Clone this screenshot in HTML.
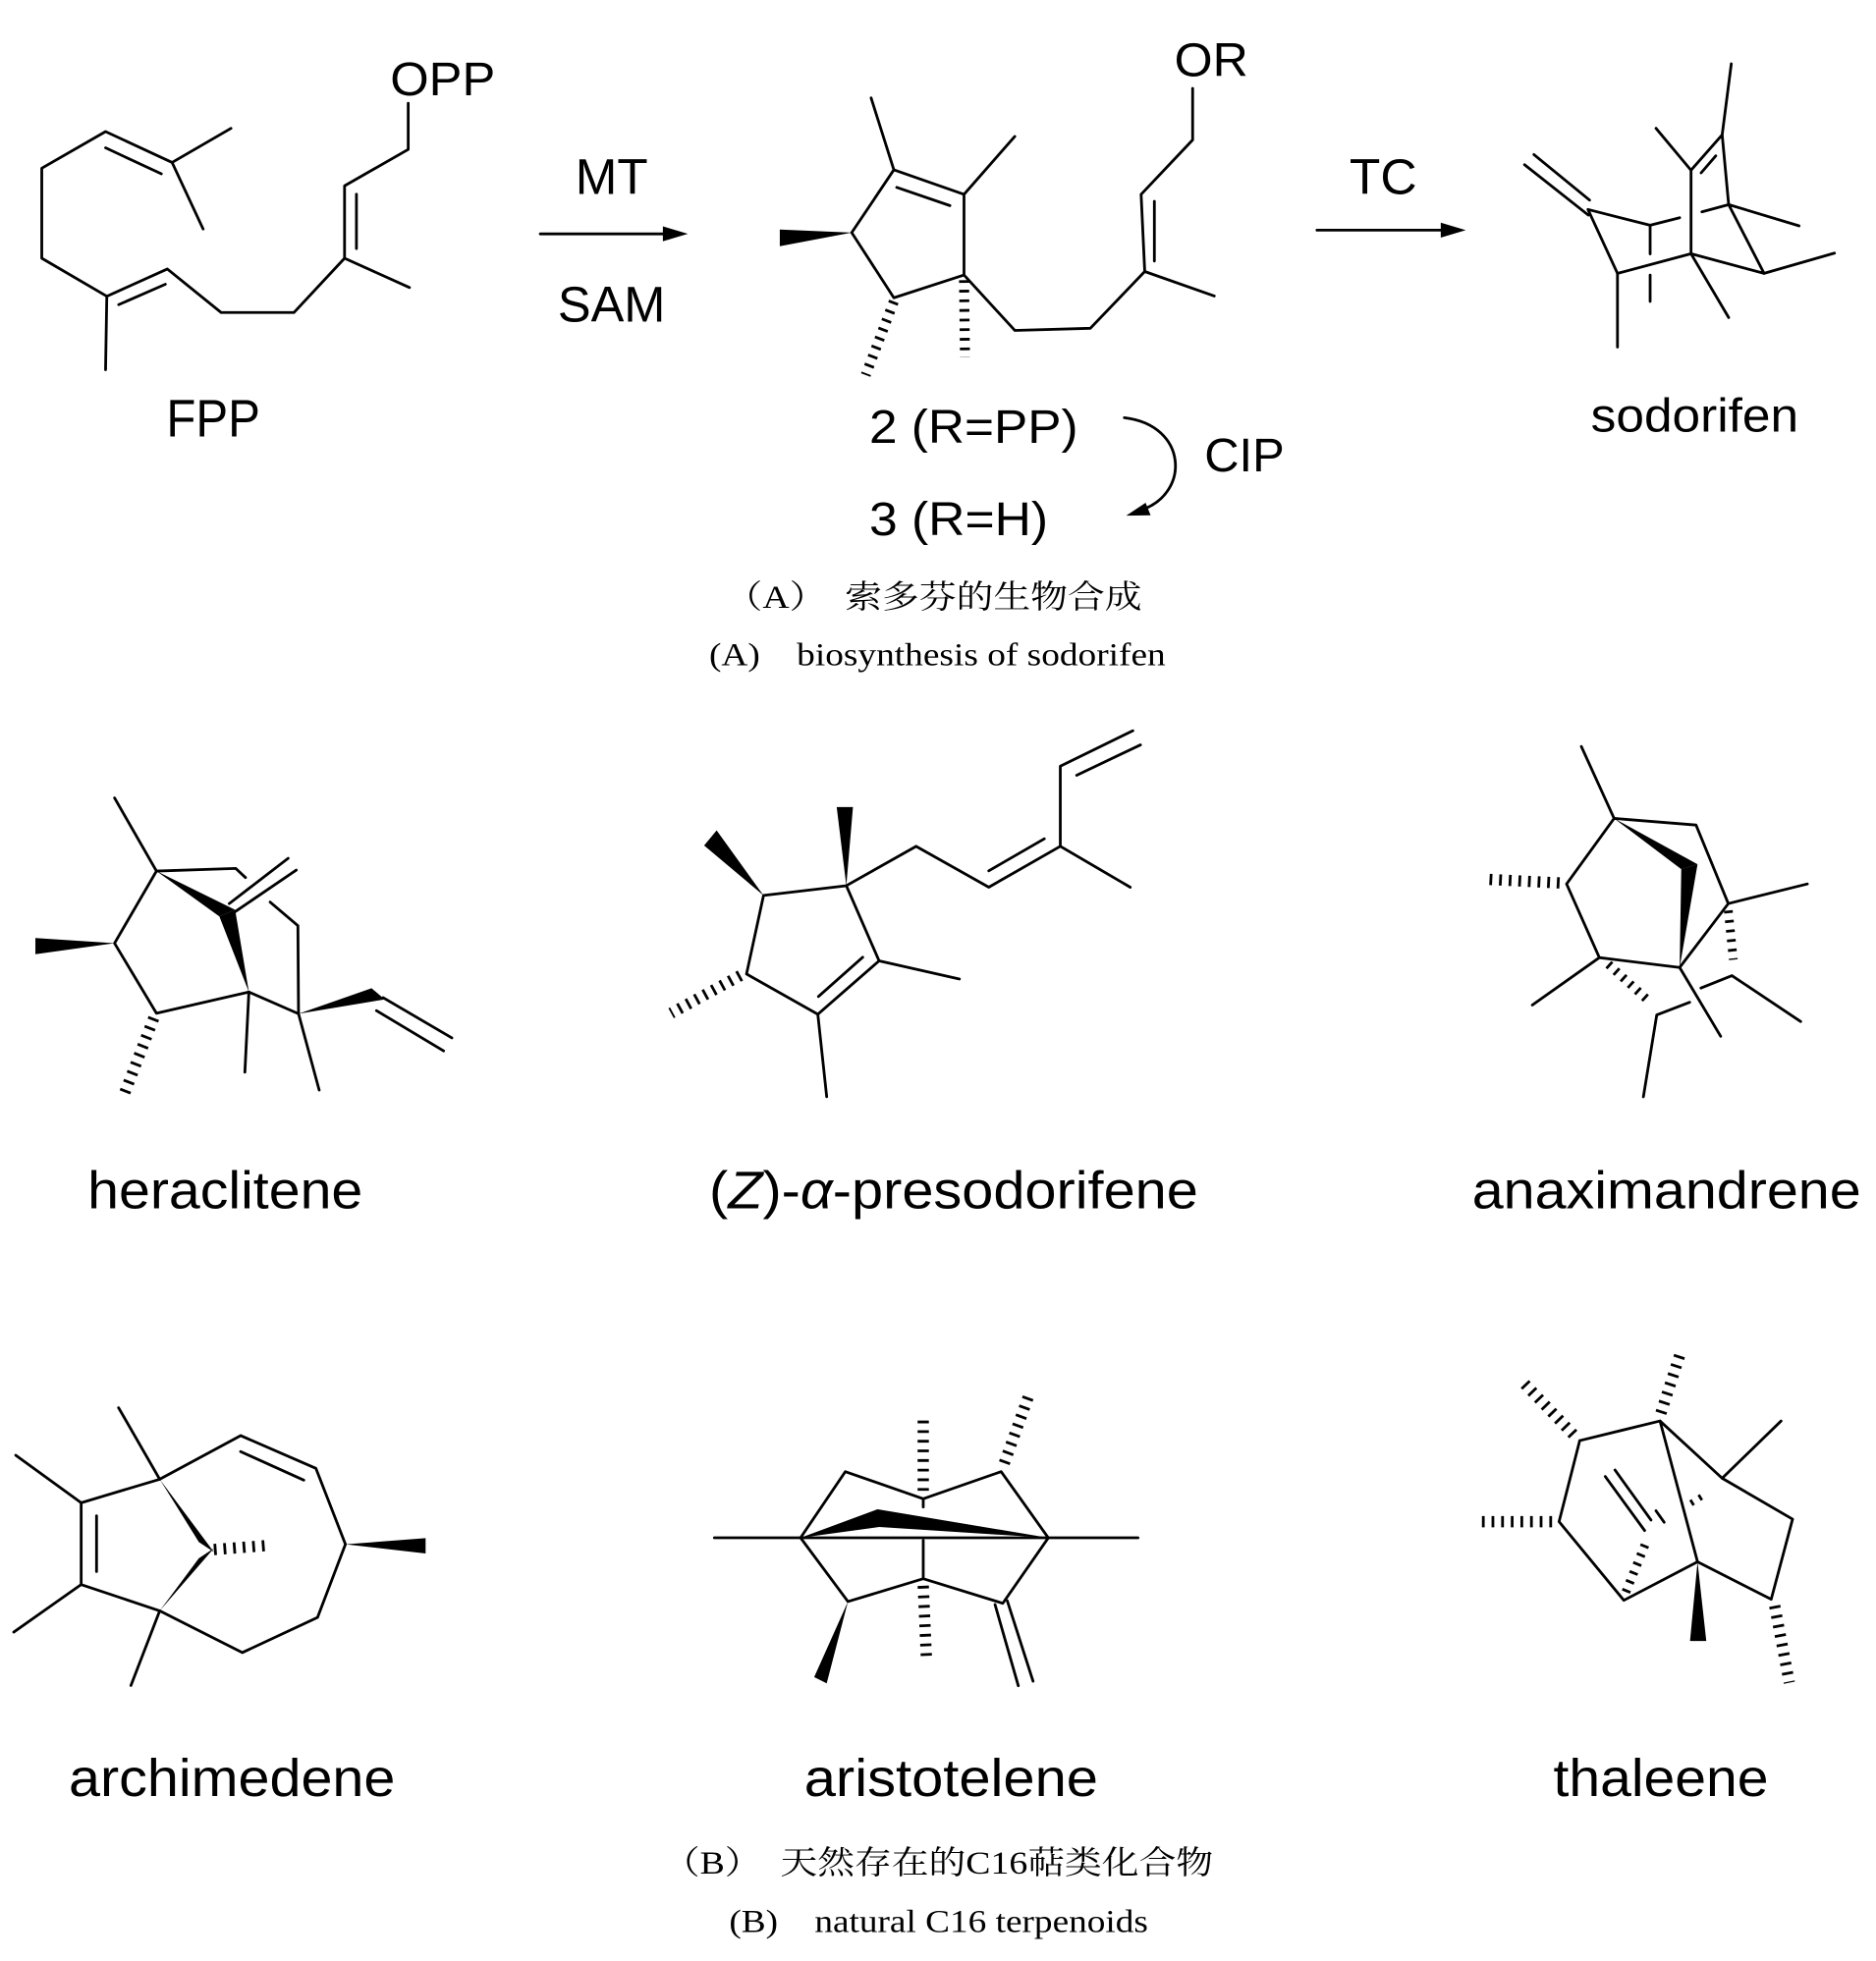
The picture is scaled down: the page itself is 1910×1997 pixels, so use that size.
<!DOCTYPE html>
<html><head><meta charset="utf-8"><style>
html,body{margin:0;padding:0;background:#fff;}
svg{display:block;}
.s{font-family:"Liberation Sans",Arial,sans-serif;fill:#000;}
.c{font-family:"Liberation Serif","Noto Serif CJK SC",serif;fill:#000;}
</style></head><body>
<svg width="1910" height="1997" viewBox="0 0 1500 1568" preserveAspectRatio="none" xmlns="http://www.w3.org/2000/svg">
<g stroke="#000" stroke-width="2.2" fill="none" stroke-linecap="round" stroke-linejoin="round">
<!-- FPP -->
<polyline points="326.4,82.6 326.4,119.5 275.5,148.6 275.5,206.5 235,249.9 176.8,249.9 133.8,215.1 85.4,236.9 33.4,206.5 33.4,134.5 84.4,105.2 137.6,129.9 184.7,102.6"/>
<line x1="137.6" y1="129.9" x2="162.4" y2="183.1"/>
<line x1="84.4" y1="118.2" x2="129" y2="139"/>
<line x1="285" y1="155.3" x2="285" y2="198.7"/>
<line x1="275.5" y1="206.5" x2="327.4" y2="229.9"/>
<line x1="85.4" y1="236.9" x2="84.4" y2="295.6"/>
<line x1="94.9" y1="243.6" x2="132.2" y2="227.3"/>
<!-- MT arrow -->
<line x1="432" y1="187" x2="535" y2="187"/>
<!-- compound 2 -->
<polyline points="681,186 714.7,135.8 770.8,155.4 770.8,219.9 714.7,238.1 681,186"/>
<line x1="717" y1="149.8" x2="759.5" y2="164.4"/>
<line x1="714.7" y1="135.8" x2="696.5" y2="78.3"/>
<line x1="770.8" y1="155.4" x2="811.4" y2="109.1"/>
<polyline points="770.8,219.9 811.4,264.2 871.8,262.5 915.3,217.1 912.4,155.4 953.6,111.9 953.6,70.7"/>
<line x1="915.3" y1="217.1" x2="970.9" y2="236.7"/>
<line x1="923" y1="161" x2="923" y2="208.7"/>
<!-- TC arrow -->
<line x1="1053" y1="184" x2="1158" y2="184"/>
<!-- CIP arc -->
<path d="M899,334 C950,340 952,395 912,408"/>
<!-- sodorifen -->
<line x1="1226.5" y1="123.6" x2="1271" y2="160"/>
<line x1="1219" y1="131.7" x2="1270" y2="172"/>
<polyline points="1343,174.1 1319.4,180.1 1269.7,167.5 1293.3,218.6 1352.1,202.9 1410.5,218.6 1382.2,163.6 1377,107.8 1352.1,136.1 1352.1,202.9"/>
<line x1="1293.3" y1="218.6" x2="1293.3" y2="277.5"/>
<line x1="1319.4" y1="180.1" x2="1319.4" y2="203"/>
<line x1="1319.4" y1="220" x2="1319.4" y2="241"/>
<line x1="1352.1" y1="136.1" x2="1324.1" y2="102.6"/>
<line x1="1377" y1="107.8" x2="1384.3" y2="51"/>
<line x1="1360.2" y1="138.2" x2="1371.9" y2="124.6"/>
<line x1="1382.2" y1="163.6" x2="1438.5" y2="180.6"/>
<line x1="1382.2" y1="163.6" x2="1360.8" y2="169.4"/>
<line x1="1410.5" y1="218.6" x2="1466.8" y2="202.4"/>
<line x1="1352.1" y1="202.9" x2="1382.2" y2="253.9"/>
<!-- heraclitene -->
<polyline points="91.6,638 125.1,696.5 91.6,754.2 125.1,810.2 199,793.2 238.7,810.6 238.2,740.2 216,721.3"/>
<polyline points="125.1,696.5 188.5,694.4 196.3,701.7"/>
<line x1="199" y1="793.2" x2="195.8" y2="857.3"/>
<line x1="238.7" y1="810.6" x2="255.2" y2="871.6"/>
<line x1="183.3" y1="722.5" x2="230.4" y2="686.3"/>
<line x1="188" y1="729" x2="236.9" y2="695.7"/>
<line x1="306.3" y1="797.7" x2="361.3" y2="829.9"/>
<line x1="301" y1="808.1" x2="354.7" y2="840.3"/>
<!-- presodorifene -->
<polyline points="610.5,716 676.7,708.2 702.9,768.3 653.9,811 596.9,778.8 610.5,716"/>
<line x1="654.4" y1="796.8" x2="689.8" y2="765.4"/>
<line x1="702.9" y1="768.3" x2="767.1" y2="782.8"/>
<line x1="653.9" y1="811" x2="661" y2="876.9"/>
<polyline points="676.7,708.2 732.5,676.7 790.6,709.4 847.8,676.7 903.7,709.4"/>
<line x1="790.6" y1="696.3" x2="835" y2="670.7"/>
<polyline points="847.8,676.7 847.8,612.6 905.8,584.3"/>
<line x1="860.9" y1="619.9" x2="911.9" y2="595.6"/>
<!-- anaximandrene -->
<polyline points="1264.4,596.9 1290.6,654.4 1252.6,706.8 1278.8,765.7 1343,773.6 1381.9,722.5 1356.1,659.7 1290.6,654.4"/>
<line x1="1278.8" y1="765.7" x2="1225.2" y2="803.6"/>
<line x1="1381.9" y1="722.5" x2="1445.1" y2="706.8"/>
<line x1="1343" y1="773.6" x2="1375.8" y2="828.6"/>
<polyline points="1360,790 1384.8,780.1 1439.8,816.8"/>
<polyline points="1351,801.4 1324.7,811.5 1314,877"/>
<!-- archimedene -->
<polyline points="127.7,1182.8 64.9,1201.6 64.9,1267 127.7,1288"/>
<line x1="77.2" y1="1212" x2="77.2" y2="1256.6"/>
<line x1="64.9" y1="1201.6" x2="12.6" y2="1163.6"/>
<line x1="64.9" y1="1267" x2="11" y2="1305"/>
<line x1="127.7" y1="1182.8" x2="94.8" y2="1125.6"/>
<line x1="127.7" y1="1288" x2="104.7" y2="1347.7"/>
<polyline points="127.7,1182.8 192.4,1147.9 252.6,1174.1 276.2,1234.8 253.9,1293.3 193.7,1321.4 127.7,1288"/>
<line x1="192.4" y1="1160.7" x2="242.9" y2="1183.5"/>
<!-- aristotelene -->
<line x1="571.2" y1="1229.6" x2="909.9" y2="1229.6"/>
<polyline points="640.1,1229.6 675.9,1176.7 738.2,1198.4 800.5,1176.7 838.2,1229.6 801.8,1282 738.2,1262.3 678,1280.6 640.1,1229.6"/>
<line x1="738.2" y1="1231.7" x2="738.2" y2="1262.3"/>
<line x1="738.2" y1="1198.4" x2="738.2" y2="1205"/>
<line x1="795.6" y1="1283" x2="814.2" y2="1347.9"/>
<line x1="805.4" y1="1280" x2="826" y2="1344.3"/>
<!-- thaleene -->
<polyline points="1263.1,1151.9 1327.3,1136.2 1377,1182 1433.3,1214.7 1416.2,1278.8 1357.3,1248.8 1298.4,1279.6 1246.6,1216.7 1263.1,1151.9"/>
<line x1="1327.3" y1="1136.2" x2="1357.3" y2="1248.8"/>
<line x1="1377" y1="1182" x2="1424.1" y2="1136.2"/>
<line x1="1283.5" y1="1180.6" x2="1315" y2="1223.8"/>
<line x1="1291.3" y1="1175.4" x2="1320.1" y2="1215.4"/>
<line x1="1324.1" y1="1208" x2="1330.6" y2="1217.2"/>
</g>
<!-- hashed bonds -->
<g stroke="#000" fill="none" stroke-dasharray="2.2 5.5">
<line x1="714.7" y1="241" x2="692.2" y2="299.9" stroke-width="8"/>
<line x1="770.8" y1="224" x2="771.6" y2="285.8" stroke-width="8"/>
<line x1="123" y1="814" x2="99.5" y2="874.4" stroke-width="9"/>
<line x1="592" y1="780" x2="536.6" y2="810.2" stroke-width="9"/>
<line x1="1247" y1="706" x2="1187.2" y2="703" stroke-width="9"/>
<line x1="1286" y1="771" x2="1319.4" y2="801.4" stroke-width="7"/>
<line x1="1381.9" y1="728" x2="1385.9" y2="767.4" stroke-width="7"/>
<line x1="171" y1="1239" x2="216" y2="1235.6" stroke-width="9"/>
<line x1="738.2" y1="1192" x2="738.2" y2="1133.5" stroke-width="9"/>
<line x1="803" y1="1170" x2="823.3" y2="1113.9" stroke-width="9"/>
<line x1="738.2" y1="1268" x2="740.8" y2="1327.2" stroke-width="9"/>
<line x1="1328" y1="1130" x2="1343" y2="1083.8" stroke-width="9"/>
<line x1="1258" y1="1147" x2="1218.6" y2="1106" stroke-width="9"/>
<line x1="1241" y1="1216.7" x2="1182" y2="1216.7" stroke-width="9"/>
<line x1="1419" y1="1284" x2="1430.7" y2="1345.5" stroke-width="9"/>
<line x1="1300" y1="1273" x2="1316.8" y2="1231.6" stroke-width="7"/>
<line x1="1352" y1="1202" x2="1365" y2="1194" stroke-width="5"/>
</g>
<!-- wedges & arrowheads -->
<g fill="#000" stroke="none">
<polygon points="550,187 530,181 530,193"/>
<polygon points="1172,184 1152,178 1152,190"/>
<polygon points="900.5,412.3 916,402 920,412"/>
<polygon points="681,186 623.5,183.5 623.5,196.9"/>
<polygon points="91.6,754.2 28.3,750 28.3,763"/>
<polygon points="125.1,696.5 175.4,732.8 188,727.5"/>
<polygon points="199,793.2 175.4,732.8 188,727.5"/>
<polygon points="238.7,810.6 297.1,790.2 307.6,799.1"/>
<polygon points="610.5,716 563,676 573,664"/>
<polygon points="676.7,708.2 669,645.3 682,645.3"/>
<polygon points="1290.6,654.4 1344.3,695 1357.3,691.1"/>
<polygon points="1343,773.6 1344.3,695 1357.3,691.1"/>
<polygon points="127.7,1182.8 159,1233 171,1241"/>
<polygon points="127.7,1288 159,1246 171,1238"/>
<polygon points="276.2,1234.8 340.3,1229.9 340.3,1242.2"/>
<polygon points="640.1,1229.6 701.6,1206.8 703,1207 838.2,1229.6 703,1221"/>
<polygon points="678,1280.6 651,1341 661,1346"/>
<polygon points="1357.3,1248.8 1351.3,1312.1 1364.3,1312.1"/>
</g>
<!-- labels -->
<g class="s">
<text x="312" y="76" font-size="38" textLength="84" lengthAdjust="spacingAndGlyphs">OPP</text>
<text x="939" y="61" font-size="38" textLength="59" lengthAdjust="spacingAndGlyphs">OR</text>
<text x="133" y="349" font-size="42" textLength="75" lengthAdjust="spacingAndGlyphs">FPP</text>
<text x="460" y="155" font-size="40" textLength="58" lengthAdjust="spacingAndGlyphs">MT</text>
<text x="446" y="257" font-size="40" textLength="86" lengthAdjust="spacingAndGlyphs">SAM</text>
<text x="1079" y="155" font-size="40" textLength="54" lengthAdjust="spacingAndGlyphs">TC</text>
<text x="695" y="354" font-size="38" textLength="167" lengthAdjust="spacingAndGlyphs">2 (R=PP)</text>
<text x="695" y="428" font-size="38" textLength="143" lengthAdjust="spacingAndGlyphs">3 (R=H)</text>
<text x="963" y="377" font-size="38" textLength="64" lengthAdjust="spacingAndGlyphs">CIP</text>
<text x="1272" y="345" font-size="38" textLength="166" lengthAdjust="spacingAndGlyphs">sodorifen</text>
<text x="70" y="966" font-size="42" textLength="220" lengthAdjust="spacingAndGlyphs">heraclitene</text>
<text x="567" y="966" font-size="42" textLength="391" lengthAdjust="spacingAndGlyphs">(<tspan font-style="italic">Z</tspan>)-<tspan font-style="italic">α</tspan>-presodorifene</text>
<text x="1177" y="966" font-size="42" textLength="311" lengthAdjust="spacingAndGlyphs">anaximandrene</text>
<text x="55" y="1436" font-size="42" textLength="261" lengthAdjust="spacingAndGlyphs">archimedene</text>
<text x="643" y="1436" font-size="42" textLength="235" lengthAdjust="spacingAndGlyphs">aristotelene</text>
<text x="1242" y="1436" font-size="42" textLength="172" lengthAdjust="spacingAndGlyphs">thaleene</text>
</g>
<g class="c" font-size="26">
<text x="580" y="486" textLength="333" lengthAdjust="spacingAndGlyphs">（A）　索多芬的生物合成</text>
<text x="567" y="532" textLength="365" lengthAdjust="spacingAndGlyphs">(A)　biosynthesis of sodorifen</text>
<text x="530" y="1498" textLength="440" lengthAdjust="spacingAndGlyphs">（B）　天然存在的C16萜类化合物</text>
<text x="583" y="1545" textLength="335" lengthAdjust="spacingAndGlyphs">(B)　natural C16 terpenoids</text>
</g>
</svg>
</body></html>
